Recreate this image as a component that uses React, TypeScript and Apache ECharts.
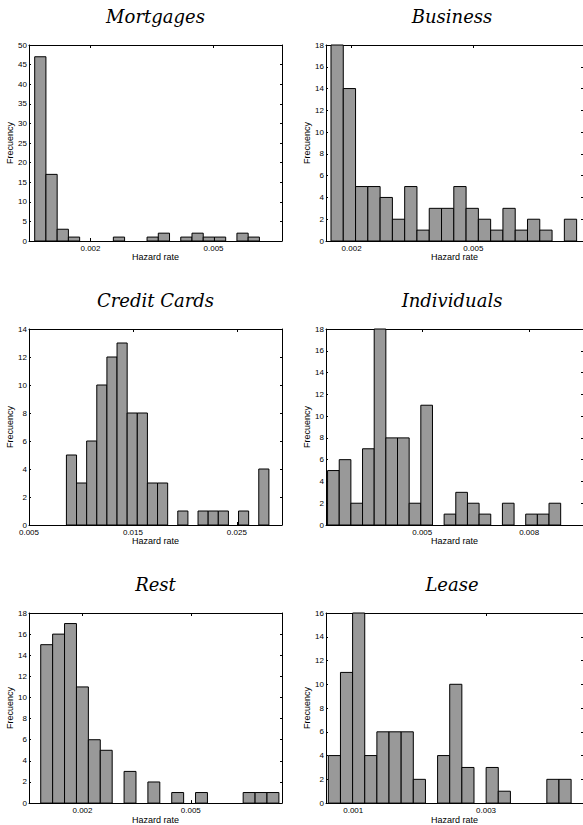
import React, { useEffect, useRef } from "react";
import * as echarts from "echarts";

// ---------- data ----------
const titles = ["Mortgages", "Business", "Credit Cards", "Individuals", "Rest", "Lease"];

const mortgagesCounts = [47, 17, 3, 1, 0, 0, 0, 1, 0, 0, 1, 2, 0, 1, 2, 1, 1, 0, 2, 1];
const businessCounts = [18, 14, 5, 5, 4, 2, 5, 1, 3, 3, 5, 3, 2, 1, 3, 1, 2, 1, 0, 2];
const creditCounts = [5, 3, 6, 10, 12, 13, 8, 8, 3, 3, 0, 1, 0, 1, 1, 1, 0, 1, 0, 4];
const individualsCounts = [5, 6, 2, 7, 18, 8, 8, 2, 11, 0, 1, 3, 2, 1, 0, 2, 0, 1, 1, 2];
const restCounts = [15, 16, 17, 11, 6, 5, 0, 3, 0, 2, 0, 1, 0, 1, 0, 0, 0, 1, 1, 1];
const leaseCounts = [4, 11, 16, 4, 6, 6, 6, 2, 0, 4, 10, 3, 0, 3, 1, 0, 0, 0, 2, 2];

// first bin edge and bin width (hazard rate units)
const binStarts = [0.000639, 0.001493, 0.0086, 0.002344, 0.000842, 0.000625];
const binWidths = [0.000274, 0.0003025, 0.000974, 0.000327, 0.00033, 0.0001828];

// axis ranges
const xMins = [0.0005, 0.00137, 0.005, 0.0023, 0.000517, 0.00059];
const xMaxs = [0.00667, 0.0077, 0.02934, 0.00951, 0.007528, 0.00446];
const xTickValues = [
  [0.002, 0.005],
  [0.002, 0.005],
  [0.005, 0.015, 0.025],
  [0.005, 0.008],
  [0.002, 0.005],
  [0.001, 0.003],
];
const yMaxs = [50, 18, 14, 18, 18, 16];
const yIntervals = [5, 2, 2, 2, 2, 2];

const allCounts = [
  mortgagesCounts,
  businessCounts,
  creditCounts,
  individualsCounts,
  restCounts,
  leaseCounts,
];

// ---------- layout ----------
const colLeft = [29, 326];
const colWidth = [253, 258];
const rowTop = [45, 329, 613];
const plotHeight = 196;
const titleY = [16, 300, 584];

export default function App() {
  const ref = useRef<HTMLDivElement>(null);

  useEffect(() => {
    if (!ref.current) return;
    const chart = echarts.init(ref.current, undefined, { renderer: "svg" });

    const grids: any[] = [];
    const xAxes: any[] = [];
    const yAxes: any[] = [];
    const series: any[] = [];
    const graphics: any[] = [];

    const fmt = (v: number) => {
      const s = v.toFixed(3);
      return s;
    };

    for (let i = 0; i < 6; i++) {
      const col = i % 2;
      const row = Math.floor(i / 2);
      const left = colLeft[col];
      const width = colWidth[col];
      const top = rowTop[row];
      grids.push({ left, top, width, height: plotHeight, containLabel: false });

      graphics.push({
        type: "text",
        x: left + width / 2 - (col === 1 ? 3 : 0),
        y: titleY[row],
        style: {
          text: titles[i],
          align: "center",
          verticalAlign: "middle",
          fontFamily: "DejaVu Serif",
          fontStyle: "italic",
          fontSize: 18,
          fill: "#000",
        },
      });

      const ticks = xTickValues[i];
      // bottom x axis
      xAxes.push({
        type: "value",
        gridIndex: i,
        position: "bottom",
        min: xMins[i],
        max: xMaxs[i],
        axisLine: { show: true, onZero: false, lineStyle: { color: "#000", width: 1 } },
        axisTick: {
          show: true,
          inside: true,
          length: 3,
          customValues: ticks,
          lineStyle: { color: "#000" },
        },
        axisLabel: {
          show: true,
          customValues: ticks,
          formatter: (v: number) => fmt(v),
          fontSize: 8,
          color: "#000",
          margin: 3,
          fontFamily: "Liberation Sans",
        },
        splitLine: { show: false },
        name: "Hazard rate",
        nameLocation: "middle",
        nameGap: 10,
        nameTextStyle: { fontSize: 9, color: "#000", fontFamily: "Liberation Sans" },
      });
      // top x axis (box)
      xAxes.push({
        type: "value",
        gridIndex: i,
        position: "top",
        min: xMins[i],
        max: xMaxs[i],
        axisLine: { show: true, onZero: false, lineStyle: { color: "#000", width: 1 } },
        axisTick: {
          show: true,
          inside: true,
          length: 3,
          customValues: ticks,
          lineStyle: { color: "#000" },
        },
        axisLabel: { show: false },
        splitLine: { show: false },
      });
      // left y axis
      yAxes.push({
        type: "value",
        gridIndex: i,
        position: "left",
        min: 0,
        max: yMaxs[i],
        interval: yIntervals[i],
        axisLine: { show: true, onZero: false, lineStyle: { color: "#000", width: 1 } },
        axisTick: { show: true, inside: true, length: 2, lineStyle: { color: "#000" } },
        axisLabel: {
          fontSize: 8,
          color: "#000",
          margin: 2,
          fontFamily: "Liberation Sans",
        },
        splitLine: { show: false },
        name: "Frecuency",
        nameLocation: "middle",
        nameGap: 12,
        nameRotate: 90,
        nameTextStyle: { fontSize: 9, color: "#000", fontFamily: "Liberation Sans" },
      });
      // right y axis (box)
      yAxes.push({
        type: "value",
        gridIndex: i,
        position: "right",
        min: 0,
        max: yMaxs[i],
        interval: yIntervals[i],
        axisLine: { show: true, onZero: false, lineStyle: { color: "#000", width: 1 } },
        axisTick: { show: true, inside: true, length: 2, lineStyle: { color: "#000" } },
        axisLabel: { show: false },
        splitLine: { show: false },
      });

      const counts = allCounts[i];
      const start = binStarts[i];
      const w = binWidths[i];
      const data = counts.map((c, j) => [start + j * w, start + (j + 1) * w, c]);

      series.push({
        type: "custom",
        xAxisIndex: i * 2,
        yAxisIndex: i * 2,
        data,
        clip: false,
        renderItem: (params: any, api: any) => {
          const c = api.value(2);
          if (!c) return null;
          const p0 = api.coord([api.value(0), c]);
          const p1 = api.coord([api.value(1), 0]);
          return {
            type: "rect",
            shape: { x: p0[0], y: p0[1], width: p1[0] - p0[0], height: p1[1] - p0[1] },
            style: { fill: "#999999", stroke: "#000", lineWidth: 1 },
          };
        },
      });
    }

    chart.setOption({
      animation: false,
      backgroundColor: "#fff",
      grid: grids,
      xAxis: xAxes,
      yAxis: yAxes,
      series,
      graphic: graphics,
    });

    return () => chart.dispose();
  }, []);

  return (
    <div
      ref={ref}
      style={{ position: "absolute", left: 0, top: 0, width: 583, height: 825, overflow: "hidden" }}
    />
  );
}
